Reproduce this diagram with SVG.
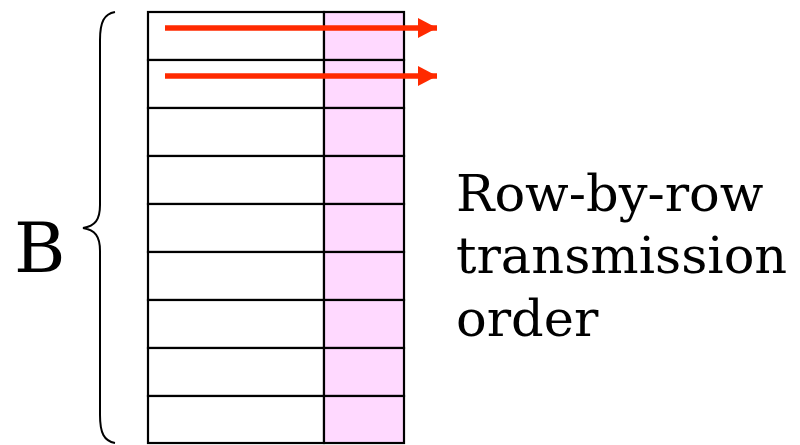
<svg xmlns="http://www.w3.org/2000/svg" width="800" height="445" viewBox="0 0 800 445">
  <style>
    .cell { fill: #ffffff; stroke: #000; stroke-width: 2.2; }
    .pink { fill: #ffd9ff; stroke: #000; stroke-width: 2.2; }
    .label { font-family: "DejaVu Serif", "Liberation Serif", serif; fill: #000; }
    .arrow { stroke: #ff2a00; stroke-width: 5.5; fill: none; }
    .brace { stroke: #000; stroke-width: 2; fill: none; }
  </style>
  <defs>
    <marker id="head" markerUnits="userSpaceOnUse" markerWidth="22" markerHeight="22" refX="19" refY="10" orient="auto">
      <path d="M0,0 L19,10 L0,20 Z" fill="#ff2a00"/>
    </marker>
  </defs>

  <!-- block of B rows: data part and pink parity column -->
  <g id="rows">
    <g id="row1"><rect class="cell" x="148" y="12" width="176" height="48"/><rect class="pink" x="324" y="12" width="80" height="48"/></g>
    <g id="row2"><rect class="cell" x="148" y="60" width="176" height="48"/><rect class="pink" x="324" y="60" width="80" height="48"/></g>
    <g id="row3"><rect class="cell" x="148" y="108" width="176" height="48"/><rect class="pink" x="324" y="108" width="80" height="48"/></g>
    <g id="row4"><rect class="cell" x="148" y="156" width="176" height="48"/><rect class="pink" x="324" y="156" width="80" height="48"/></g>
    <g id="row5"><rect class="cell" x="148" y="204" width="176" height="48"/><rect class="pink" x="324" y="204" width="80" height="48"/></g>
    <g id="row6"><rect class="cell" x="148" y="252" width="176" height="48"/><rect class="pink" x="324" y="252" width="80" height="48"/></g>
    <g id="row7"><rect class="cell" x="148" y="300" width="176" height="48"/><rect class="pink" x="324" y="300" width="80" height="48"/></g>
    <g id="row8"><rect class="cell" x="148" y="348" width="176" height="48"/><rect class="pink" x="324" y="348" width="80" height="48"/></g>
    <g id="row9"><rect class="cell" x="148" y="396" width="176" height="47"/><rect class="pink" x="324" y="396" width="80" height="47"/></g>
  </g>

  <!-- brace spanning all rows -->
  <g id="brace">
    <path class="brace" d="M115,12 C104,14 100,22 100,40 L100,205 C100,220 95,226 83,228 C95,230 100,236 100,251 L100,415 C100,433 104,441 115,443"/>
  </g>

  <g id="label-B">
    <text class="label" x="14" y="272" font-size="70">B</text>
  </g>

  <g id="caption">
    <text class="label" font-size="51">
      <tspan x="456" y="211">Row-by-row</tspan>
      <tspan x="456" y="273">transmission</tspan>
      <tspan x="456" y="336">order</tspan>
    </text>
  </g>

  <!-- transmission arrows -->
  <g id="connectors">
    <line class="arrow" x1="165" y1="28" x2="437" y2="28" marker-end="url(#head)"/>
    <line class="arrow" x1="165" y1="76" x2="437" y2="76" marker-end="url(#head)"/>
  </g>
</svg>
